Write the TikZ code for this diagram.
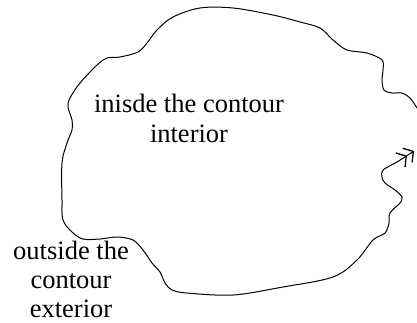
\documentclass[tikz,border=0pt]{standalone}
\usepackage{fontspec}
\setmainfont{Liberation Serif}
\usetikzlibrary{arrows.meta}
\tikzset{
  lbl/.style={align=center, inner sep=0pt, font=\fontsize{26.5}{30}\selectfont},
  lblb/.style={align=center, inner sep=0pt, font=\fontsize{26.5}{29}\selectfont},
  contour/.style={line width=1pt, line cap=round, line join=round},
  barb/.style={-{Straight Barb[length=7pt,width=17pt,line width=1.3pt] Straight Barb[length=7pt,width=17pt,line width=1.3pt]}}
}
\begin{document}
\begin{tikzpicture}[x=1pt,y=-1pt]
\useasboundingbox (0,0) rectangle (417,322);
\draw[contour, barb]
  plot[smooth, tension=0.55] coordinates {
  (417,108) (410,98) (402,93) (392,93) (384,90) (382,80) (383,70) (382,60)
  (367,53) (347,50) (333,40) (320,28) (300,22) (273,15) (233,8) (200,8)
  (173,17) (157,30) (147,43) (138,52) (120,57) (107,58) (97,65) (80,83)
  (70,98) (68,107) (72,120) (72,130) (67,143) (62,163) (62,200) (63,220)
  (72,232) (83,239) (100,239) (117,237) (133,240) (143,250) (152,263)
  (160,272) (165,283) (172,290) (187,293) (233,295) (283,287) (333,277)
  (357,260) (373,240)
  (385,233) (389,223) (390,213) (400,203) (402,197) (395,190) (385,183)
  (382,177) (383,170) (397,162) (414,151)};
\node[lbl] (inside) at (189,118) {inisde the contour\\interior};
\node[lblb] (outside) at (71,279) {outside the\\contour\\exterior};
\end{tikzpicture}
\end{document}
